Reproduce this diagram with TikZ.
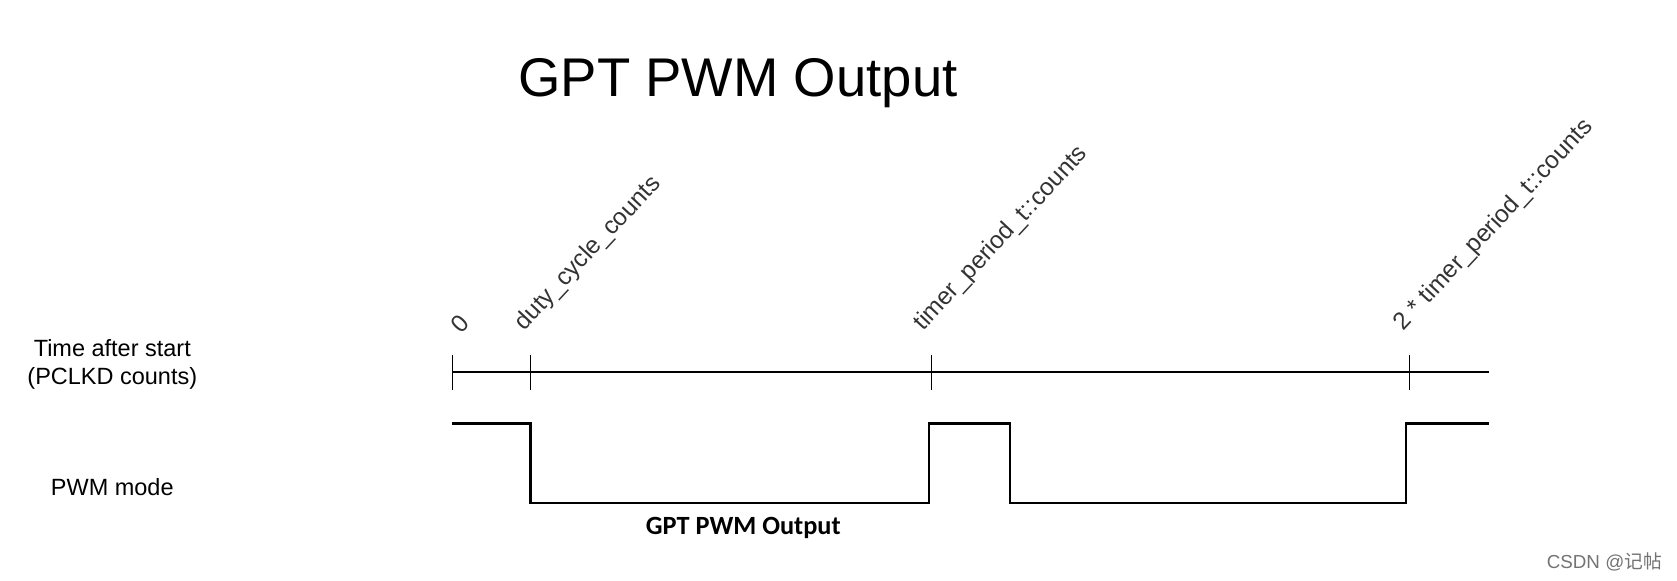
\documentclass[tikz,border=0pt]{standalone}
\usepackage{fontspec}
\setmainfont{Liberation Sans}
\newfontfamily\calib{Carlito}
\newfontfamily\cjk{Noto Sans CJK SC}
\begin{document}
\begin{tikzpicture}[x=0.02cm,y=-0.02cm,
  sig/.style={line width=1.1pt},
  tick/.style={line width=0.8pt},
  lbl/.style={font=\fontsize{12.5}{15}\selectfont},
  rlbl/.style={font=\fontsize{13}{15}\selectfont,rotate=47,anchor=south west,inner sep=1pt,text=black!80}]
\useasboundingbox (0,0) rectangle (1568,543);
\node[font=\fontsize{29}{33}\selectfont] (title) at (690,78) {GPT PWM Output};
\coordinate (a0) at (423,348);
\coordinate (a1) at (1392,348);
\draw[sig] (a0) -- (a1);
\foreach \n/\x in {t0/423,t1/496,t2/871,t3/1318}{
  \coordinate (\n) at (\x,348);
  \draw[tick] (\x,332) -- (\x,365);
}
\node[rlbl] (l0) at (432,316) {0};
\node[rlbl] (l1) at (494,316) {duty\_cycle\_counts};
\node[rlbl] (l2) at (867,316) {timer\_period\_t::counts};
\node[rlbl] (l3) at (1316,316) {2 * timer\_period\_t::counts};
\node[lbl,align=center] (time) at (105,341) {Time after start\\(PCLKD counts)};
\node[lbl] (mode) at (105,455) {PWM mode};
\node[font=\calib\bfseries\fontsize{14}{16}\selectfont] (out) at (695,494) {GPT PWM Output};
\draw[sig] (423,396) -- (496,396) -- (496,470) -- (869,470) -- (869,396) -- (944,396) -- (944,470) -- (1315,470) -- (1315,396) -- (1392,396);
\node[font=\fontsize{10}{12}\selectfont,text=black!55,anchor=east,inner sep=1pt] (wm) at (1556,525) {CSDN @{\cjk 记帖}};
\end{tikzpicture}
\end{document}
